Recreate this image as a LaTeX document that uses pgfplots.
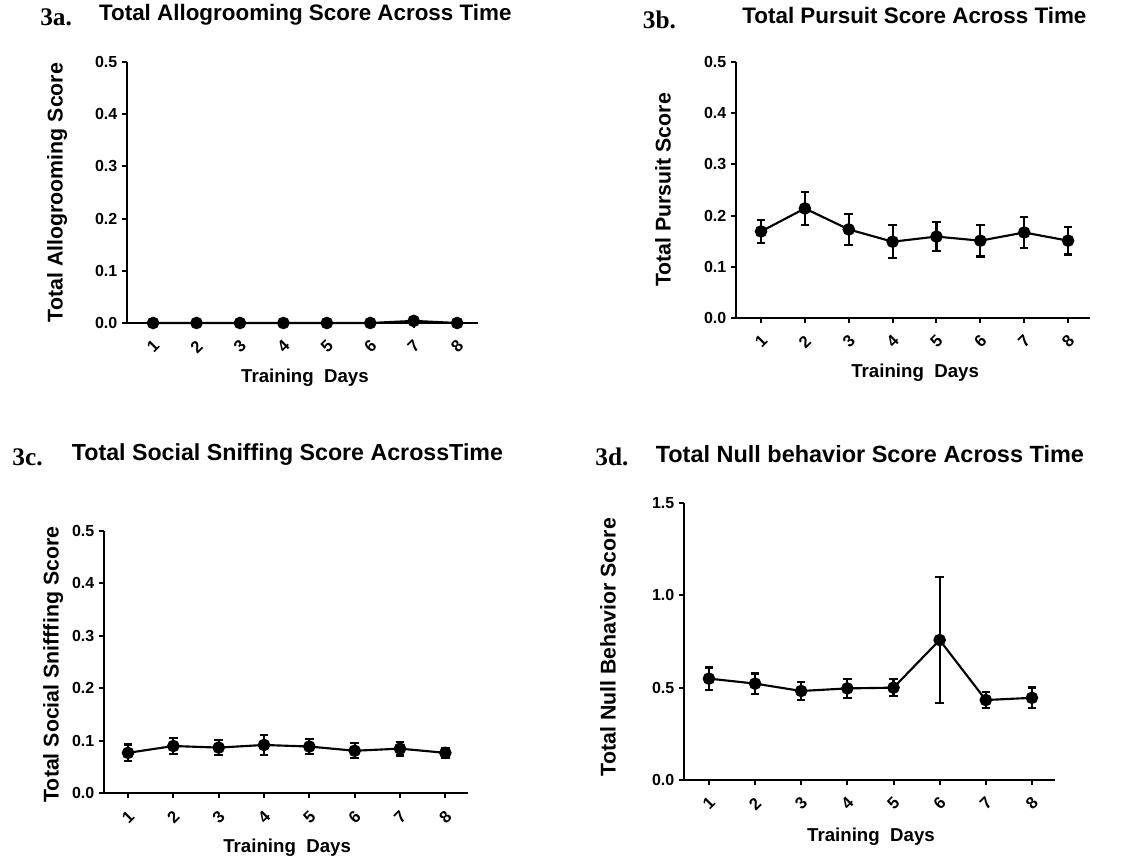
\documentclass[border=0pt]{standalone}
\usepackage{fontspec}
\setmainfont{Liberation Sans}
\newfontfamily\serifb{Liberation Serif}
\usepackage{pgfplots}
\pgfplotsset{compat=1.18}
\tikzset{plab/.style={font=\serifb\bfseries\fontsize{19}{19}\selectfont}}
\begin{document}
\begin{tikzpicture}
\path (0pt,0pt) rectangle (859.5pt,647.25pt);
\pgfplotsset{
  gp/.style={
    scale only axis,
    axis lines*=left,
    axis line style={line width=1.7pt,-},
    xmin=0.45, xmax=8.5,
    xtick={1,...,8},
    xticklabels={1,2,3,4,5,6,7,8},
    tick style={line width=1.5pt,black},
    major tick length=3.75pt,
    tick align=outside,
    xticklabel style={anchor=center,yshift=-14pt,rotate=45,font=\bfseries\fontsize{12.5}{13}\selectfont},
    yticklabel style={font=\bfseries\fontsize{12}{13}\selectfont},
    /pgf/number format/assume math mode=true,
    /pgf/number format/fixed,
    /pgf/number format/fixed zerofill,
    /pgf/number format/precision=1,
    title style={anchor=center},
    xlabel style={font=\bfseries\fontsize{14}{15}\selectfont,anchor=center},
    ylabel style={font=\bfseries\fontsize{16}{17}\selectfont,anchor=center,rotate=0},
    clip=false,
  },
  gpline/.style={black,line width=1.6pt,mark=*,mark size=3.9pt,mark options={fill=black,solid},
    error bars/.cd,y dir=both,y explicit,
    error bar style={line width=1.6pt},
    error mark options={rotate=90,mark size=3.2pt,line width=1.6pt}},
}
% ---- 3a
\begin{axis}[gp,at={(95.25pt,405pt)},anchor=south west,width=263.25pt,height=195.75pt,
  xmin=0.4,xmax=8.48,ymin=0,ymax=0.5,ytick={0,0.1,...,0.5},
  title={Total Allogrooming Score Across Time},
  title style={font=\bfseries\fontsize{16.8}{17}\selectfont,at={(axis description cs:0.508,1.149)}},
  xlabel={Training\ \ Days},xlabel style={at={(axis description cs:0.507,-0.211)}},
  ylabel={Total Allogrooming Score},ylabel style={at={(axis description cs:-0.199,0.50)}}]
\addplot[gpline] coordinates {(1,0) +- (0,0) (2,0) +- (0,0) (3,0) +- (0,0) (4,0) +- (0,0)
 (5,0) +- (0,0) (6,0) +- (0,0) (7,0.004) +- (0,0.004) (8,0) +- (0,0)};
\node[plab] at (axis description cs:-0.202,1.172) {3a.};
\end{axis}
% ---- 3b
\begin{axis}[gp,at={(552pt,408.75pt)},anchor=south west,width=265.5pt,height=192pt,
  xmin=0.43,xmax=8.5,ymin=0,ymax=0.5,ytick={0,0.1,...,0.5},
  title={Total Pursuit Score Across Time},
  title style={font=\bfseries\fontsize{16.8}{17}\selectfont,at={(axis description cs:0.504,1.152)}},
  xlabel={Training\ \ Days},xlabel style={at={(axis description cs:0.506,-0.215)}},
  ylabel={Total Pursuit Score},ylabel style={at={(axis description cs:-0.206,0.50)}}]
\addplot[gpline] coordinates {(1,0.169) +- (0,0.022) (2,0.214) +- (0,0.032) (3,0.173) +- (0,0.030)
 (4,0.149) +- (0,0.032) (5,0.159) +- (0,0.029) (6,0.151) +- (0,0.031) (7,0.167) +- (0,0.031) (8,0.151) +- (0,0.027)};
\node[plab] at (axis description cs:-0.216,1.164) {3b.};
\end{axis}
% ---- 3c
\begin{axis}[gp,at={(78pt,52.275pt)},anchor=south west,width=273pt,height=197pt,
  xmin=0.47,xmax=8.5,ymin=0,ymax=0.5,ytick={0,0.1,...,0.5},
  title={Total Social Sniffing Score AcrossTime},
  title style={font=\bfseries\fontsize{17.4}{18}\selectfont,at={(axis description cs:0.504,1.258)}},
  xlabel={Training\ \ Days},xlabel style={at={(axis description cs:0.503,-0.208)}},
  ylabel={Total Social Snifffing Score},ylabel style={at={(axis description cs:-0.14,0.49)}}]
\addplot[gpline] coordinates {(1,0.077) +- (0,0.016) (2,0.090) +- (0,0.015) (3,0.087) +- (0,0.014)
 (4,0.092) +- (0,0.019) (5,0.089) +- (0,0.015) (6,0.081) +- (0,0.014) (7,0.085) +- (0,0.013) (8,0.077) +- (0,0.009)};
\node[plab] at (axis description cs:-0.21,1.281) {3c.};
\end{axis}
% ---- 3d
\begin{axis}[gp,at={(513pt,62.25pt)},anchor=south west,width=278.25pt,height=207.75pt,
  xmin=0.46,xmax=8.5,ymin=0,ymax=1.5,ytick={0,0.5,1.0,1.5},
  title={Total Null behavior Score Across Time},
  title style={font=\bfseries\fontsize{17.6}{18}\selectfont,at={(axis description cs:0.501,1.148)}},
  xlabel={Training\ \ Days},xlabel style={at={(axis description cs:0.504,-0.206)}},
  ylabel={Total Null Behavior Score},ylabel style={at={(axis description cs:-0.205,0.48)}}]
\addplot[gpline] coordinates {(1,0.549) +- (0,0.06) (2,0.522) +- (0,0.055) (3,0.482) +- (0,0.047)
 (4,0.496) +- (0,0.053) (5,0.50) +- (0,0.046) (6,0.758) +- (0,0.34) (7,0.433) +- (0,0.045) (8,0.445) +- (0,0.056)};
\node[plab] at (axis description cs:-0.194,1.166) {3d.};
\end{axis}
\end{tikzpicture}
\end{document}
